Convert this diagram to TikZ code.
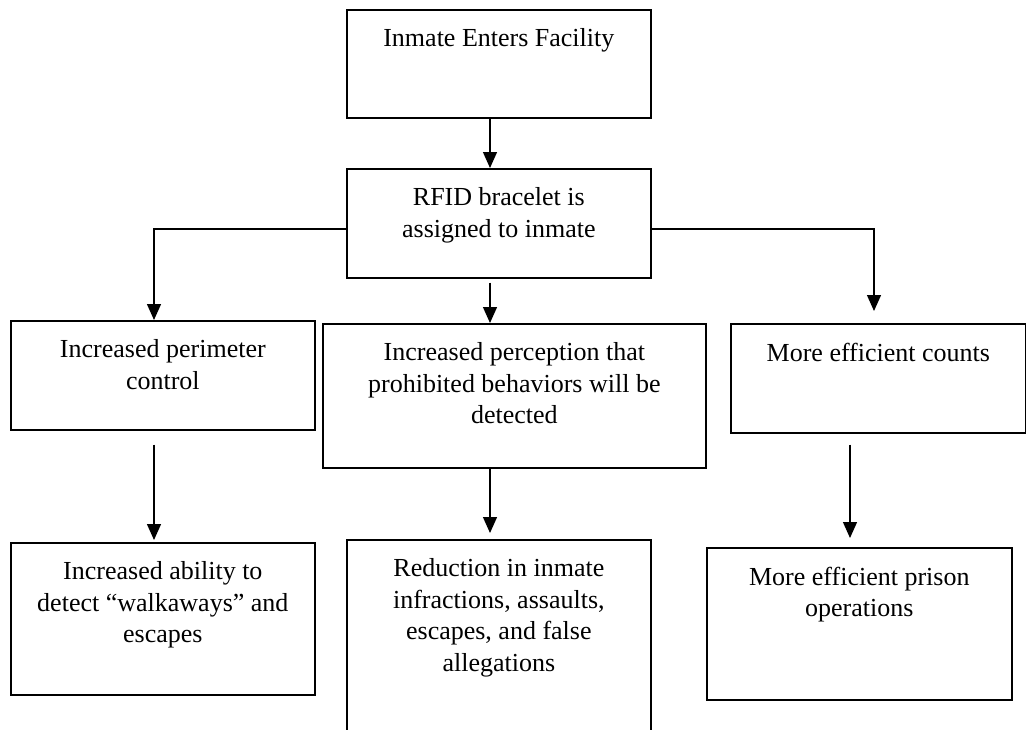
\documentclass[tikz,border=0pt]{standalone}
\usepackage{fontspec}
\setmainfont{Liberation Serif}
\usetikzlibrary{arrows.meta}

\newcommand{\boxtext}[3]{\parbox[c][#2][t]{#1}{\centering\vspace{19pt}#3}}

\begin{document}
\begin{tikzpicture}[x=1pt, y=-1pt]
\useasboundingbox (0,0) rectangle (1026,729);

\begin{scope}[every node/.style={draw, line width=1.7pt, anchor=north west, inner sep=0pt,
                                 font=\fontsize{26}{31.5}\selectfont}]
    \node (enter) at (346, 9) {\boxtext{304pt}{108pt}{Inmate Enters Facility}};
    \node (bracelet) at (346, 168) {\boxtext{304pt}{109pt}{RFID bracelet is\\assigned to inmate}};

    \node (perim) at (10, 320) {\boxtext{304pt}{109pt}{Increased perimeter\\control}};
    \node (percep) at (322, 323) {\boxtext{383pt}{144pt}{Increased perception that\\prohibited behaviors will be\\detected}};
    \node (counts) at (730, 323) {\boxtext{295pt}{109pt}{More efficient counts}};

    \node (walk) at (10, 542) {\boxtext{304pt}{152pt}{Increased ability to\\detect ``walkaways'' and\\escapes}};
    \node (reduce) at (346, 539) {\boxtext{304pt}{210pt}{Reduction in inmate\\infractions, assaults,\\escapes, and false\\allegations}};
    \node (prison) at (706, 547) {\boxtext{305pt}{152pt}{More efficient prison\\operations}};
\end{scope}

\coordinate (lcol) at (154, 0);
\coordinate (spine) at (490, 0);
\coordinate (rcol) at (850, 0);
\coordinate (rtrunk) at (874, 0);

\begin{scope}[>={Triangle[length=16pt, width=14pt]}, line width=1.3pt]
    \draw [->] (spine |- enter.south) -- (spine |- bracelet.north);

    \draw [->] ([yshift=-5.5pt]bracelet.west) -| (lcol |- perim.north);
    \draw [->, shorten <=4pt] (spine |- bracelet.south) -- (spine |- percep.north);
    \draw [->, shorten >=12pt] ([yshift=-5.5pt]bracelet.east) -| (rtrunk |- counts.north);

    \draw [->, shorten <=14pt, shorten >=2pt] (lcol |- perim.south) -- (lcol |- walk.north);
    \draw [->, shorten >=6pt] (spine |- percep.south) -- (spine |- reduce.north);
    \draw [->, shorten <=11pt, shorten >=9pt] (rcol |- counts.south) -- (rcol |- prison.north);
\end{scope}
\end{tikzpicture}
\end{document}
